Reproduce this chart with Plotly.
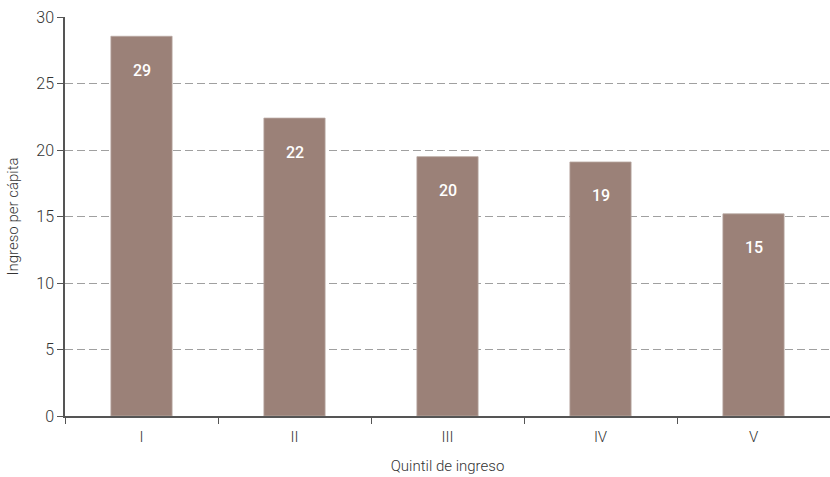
import plotly.graph_objects as go

# Income per capita by income quintile
quintiles = ["I", "II", "III", "IV", "V"]
income = [28.55, 22.4, 19.5, 19.1, 15.2]

BAR = "#9b8178"
TEXT = "#333333"
FONT = "Roboto, Arial, sans-serif"

fig = go.Figure(
    go.Bar(
        x=quintiles,
        y=income,
        marker=dict(color=BAR, line=dict(color="#b9a8a2", width=0.8)),
        hoverinfo="skip",
    )
)

# value labels placed just below the top of each bar
for q, v in zip(quintiles, income):
    fig.add_annotation(
        x=q, y=v, text=f"{v:.0f}", showarrow=False,
        yshift=-34, font=dict(family=FONT, size=16, color="white", weight=500),
    )

fig.update_layout(
    width=830, height=477,
    margin=dict(l=65, r=0, t=17, b=61),
    paper_bgcolor="white", plot_bgcolor="white",
    bargap=0.6, showlegend=False,
    font=dict(family=FONT, color=TEXT, size=16),
)
fig.update_xaxes(
    showline=True, linecolor="#555555", linewidth=1.5,
    ticks="outside", tickson="boundaries", ticklen=6, tickcolor="#555555",
    ticklabelstandoff=6,
    tickfont=dict(size=15, color=TEXT, weight=300),
    title=dict(text="Quintil de ingreso", font=dict(size=15, color=TEXT, weight=300), standoff=16),
    showgrid=False,
)
fig.update_yaxes(
    range=[0, 30], dtick=5,
    showline=True, linecolor="#555555", linewidth=1.5,
    ticks="outside", ticklen=6, tickcolor="#555555",
    tickfont=dict(size=16, color=TEXT, weight=300),
    showgrid=True, gridcolor="#a0a0a0", griddash="8px,4px", gridwidth=1,
    zeroline=False,
    title=dict(text="Ingreso per cápita", font=dict(size=15, color=TEXT, weight=300), standoff=14),
)

fig.write_html("out.html")
